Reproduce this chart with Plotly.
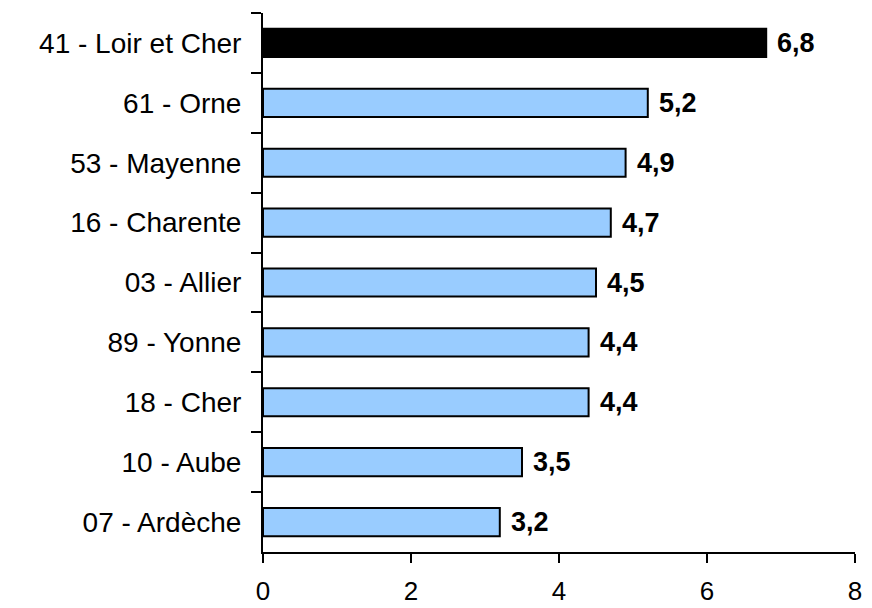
import plotly.graph_objects as go

# departments, top to bottom as shown
departements = [
    "41 - Loir et Cher",
    "61 - Orne",
    "53 - Mayenne",
    "16 - Charente",
    "03 - Allier",
    "89 - Yonne",
    "18 - Cher",
    "10 - Aube",
    "07 - Ardèche",
]
valeurs = [6.8, 5.2, 4.9, 4.7, 4.5, 4.4, 4.4, 3.5, 3.2]
highlight = "41 - Loir et Cher"
x_ticks = [0, 2, 4, 6, 8]

colors = ["#000000" if d == highlight else "#99CCFF" for d in departements]

fig = go.Figure()
fig.add_trace(
    go.Bar(
        x=valeurs,
        y=departements,
        orientation="h",
        marker={"color": colors, "line": {"color": "black", "width": 2}},
        width=0.47,
        hoverinfo="skip",
    )
)

# value labels to the right of each bar (comma decimal)
for d, v in zip(departements, valeurs):
    fig.add_annotation(
        x=v,
        y=d,
        text="<b>" + f"{v:.1f}".replace(".", ",") + "</b>",
        showarrow=False,
        xanchor="left",
        yanchor="middle",
        xshift=9,
        font={"family": "Liberation Sans, Arial", "size": 27, "color": "black"},
    )

fig.update_xaxes(
    range=[0, 8],
    tickvals=x_ticks,
    ticktext=[str(t) for t in x_ticks],
    showgrid=False,
    zeroline=False,
    showline=True,
    linecolor="black",
    linewidth=2,
    ticks="outside",
    ticklen=9,
    tickwidth=2,
    tickcolor="black",
    ticklabelstandoff=6,
    tickfont={"size": 26},
    automargin=False,
)
fig.update_yaxes(
    autorange="reversed",
    showgrid=False,
    zeroline=False,
    showline=True,
    linecolor="black",
    linewidth=2,
    ticks="outside",
    tickson="boundaries",
    ticklen=10,
    tickwidth=2,
    tickcolor="black",
    ticklabelstandoff=14,
    tickfont={"size": 28},
    automargin=False,
)

fig.update_layout(
    width=872,
    height=608,
    margin={"l": 263, "r": 17, "t": 13, "b": 56},
    plot_bgcolor="white",
    paper_bgcolor="white",
    showlegend=False,
    font={"family": "Liberation Sans, Arial", "color": "black"},
)

# drop the default body margin so the figure sits at the page corner
fig.write_html(
    "out.html",
    config={"displayModeBar": False},
    post_script="document.body.style.margin='0';",
)
